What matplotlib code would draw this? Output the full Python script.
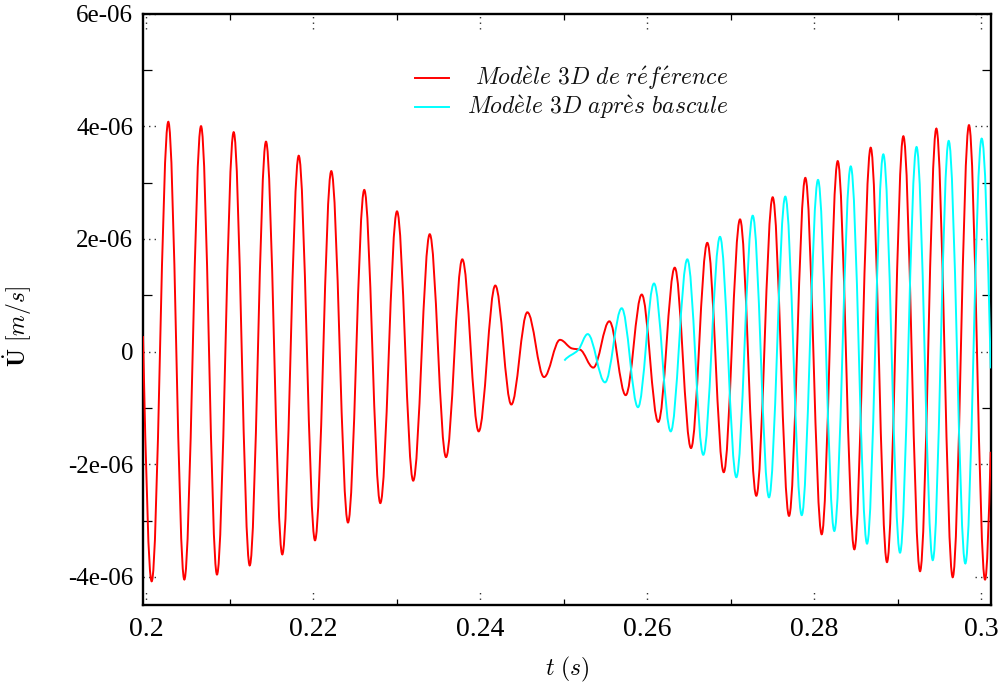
import numpy as np
import matplotlib
matplotlib.use('Agg')
import matplotlib.pyplot as plt
from matplotlib.path import Path
from matplotlib.patches import PathPatch
import matplotlib.transforms as mtransforms

plt.rcParams['mathtext.fontset'] = 'cm'

# ── Data: extrema of the velocity signals (t in s, U in 1e-6 m/s)
ref_t = [0.19964, 0.20068, 0.20267, 0.20459, 0.20659, 0.20850, 0.21050, 0.21242,
         0.21437, 0.21632, 0.21829, 0.22024, 0.22219, 0.22419, 0.22614, 0.22806,
         0.23006, 0.23200, 0.23398, 0.23593, 0.23788, 0.23984, 0.24183, 0.24375,
         0.24567, 0.24767, 0.24958, 0.25102, 0.25198, 0.25357, 0.25549, 0.25745,
         0.25937, 0.26135, 0.26332, 0.26527, 0.26722, 0.26919, 0.27114, 0.27309,
         0.27505, 0.27701, 0.27896, 0.28092, 0.28284, 0.28483, 0.28679, 0.28874,
         0.29070, 0.29270, 0.29465, 0.29661, 0.29856, 0.30048, 0.30116]
ref_u = [0.273, -4.079, 4.077, -4.048, 4.000, -3.959, 3.893, -3.798,
         3.725, -3.602, 3.475, -3.352, 3.202, -3.036, 2.868, -2.691,
         2.488, -2.293, 2.082, -1.875, 1.636, -1.418, 1.171, -0.941,
         0.696, -0.454, 0.207, 0.054, 0.032, -0.286, 0.536, -0.775,
         1.011, -1.250, 1.488, -1.714, 1.929, -2.143, 2.345, -2.561,
         2.738, -2.918, 3.082, -3.245, 3.380, -3.512, 3.618, -3.739,
         3.821, -3.900, 3.957, -4.007, 4.018, -4.048, -1.780]

bas_t = [0.25010, 0.25177, 0.25290, 0.25497, 0.25697, 0.25892, 0.26084, 0.26284,
         0.26483, 0.26674, 0.26874, 0.27070, 0.27266, 0.27461, 0.27656, 0.27853,
         0.28048, 0.28243, 0.28440, 0.28635, 0.28830, 0.29030, 0.29228, 0.29422,
         0.29613, 0.29812, 0.30008, 0.30116]
bas_u = [-0.161, 0.029, 0.309, -0.548, 0.768, -0.989, 1.207, -1.418,
         1.636, -1.834, 2.036, -2.232, 2.411, -2.589, 2.750, -2.905,
         3.046, -3.186, 3.286, -3.411, 3.500, -3.571, 3.630, -3.704,
         3.738, -3.763, 3.779, -0.300]

labels = ['Modèle 3D de référence', 'Modèle 3D après bascule']
legend_tex = [r'$Mod\grave{e}le\ 3D\ de\ r\acute{e}f\acute{e}rence$',
              r'$Mod\grave{e}le\ 3D\ apr\grave{e}s\ bascule$']
colors = ['#ff0000', '#00ffff']

y_major = [-4e-6, -2e-6, 0, 2e-6, 4e-6, 6e-6]
y_labels = ['-4e-06', '-2e-06', '0', '2e-06', '4e-06', '6e-06']
y_minor = [-3e-6, -1e-6, 1e-6, 3e-6, 5e-6]
x_major = [0.20, 0.22, 0.24, 0.26, 0.28, 0.30]
x_labels = ['0.2', '0.22', '0.24', '0.26', '0.28', '0.3']
x_minor = [0.21, 0.23, 0.25, 0.27, 0.29]


def wave_path(ts, us, scale=1e-6):
    """Smooth Bezier path through the read extrema (horizontal tangent at peaks)."""
    t = np.asarray(ts, float)
    u = np.asarray(us, float) * scale
    d = np.diff(u) / np.diff(t)
    m = np.zeros(len(t))
    for i in range(1, len(t) - 1):
        if d[i - 1] * d[i] > 0:
            m[i] = 2.0 / (1.0 / d[i - 1] + 1.0 / d[i])
    m[0] = 1.57 * d[0]
    m[-1] = 1.57 * d[-1]
    verts = [(t[0], u[0])]
    codes = [Path.MOVETO]
    for i in range(len(t) - 1):
        h = 0.36 * (t[i + 1] - t[i])
        verts += [(t[i] + h, u[i] + m[i] * h),
                  (t[i + 1] - h, u[i + 1] - m[i + 1] * h),
                  (t[i + 1], u[i + 1])]
        codes += [Path.CURVE4] * 3
    return Path(verts, codes)


fig = plt.figure(figsize=(10.04, 6.88), dpi=100, facecolor='white')
ax = fig.add_axes([143 / 1004, 1 - 605 / 688, 847.7 / 1004, 591.5 / 688])
ax.set_xlim(0.19964, 0.30116)
ax.set_ylim(-4.5e-6, 6e-6)

for ts, us, c in [(ref_t, ref_u, colors[0]), (bas_t, bas_u, colors[1])]:
    ax.add_patch(PathPatch(wave_path(ts, us), fill=False, edgecolor=c,
                           linewidth=1.4, zorder=3))

# ── ticks: labels only for majors, majors drawn dotted by hand ─────
ax.set_yticks(y_major, y_labels)
ax.set_xticks(x_major, x_labels)
ax.set_yticks(y_minor, minor=True)
ax.set_xticks(x_minor, minor=True)
ax.tick_params(which='major', length=0)
ax.tick_params(axis='y', which='major', pad=7, labelsize=18)
ax.tick_params(axis='x', which='major', pad=9, labelsize=20)
ax.tick_params(which='minor', direction='in', length=6.5, width=0.9,
               top=True, right=True, color='black')
ax.tick_params(axis='x', which='minor', length=4)
for lab in ax.get_xticklabels() + ax.get_yticklabels():
    lab.set_fontfamily('Liberation Serif')

tick_kw = dict(color='#333333', linewidth=1.0, linestyle=(0, (1, 3)), zorder=2,
               clip_on=False)
ytr = mtransforms.blended_transform_factory(ax.transAxes, ax.transData)
xtr = mtransforms.blended_transform_factory(ax.transData, ax.transAxes)
for y in y_major:
    ax.plot([0, 0.019], [y, y], transform=ytr, **tick_kw)
    ax.plot([0.981, 1], [y, y], transform=ytr, **tick_kw)
for x in x_major:
    ax.plot([x, x], [0, 0.026], transform=xtr, **tick_kw)
    ax.plot([x, x], [0.974, 1], transform=xtr, **tick_kw)

for s in ax.spines.values():
    s.set_linewidth(1.7)

ax.set_xlabel(r'$t\ (s)$', fontsize=17)
ax.xaxis.set_label_coords(0.5, -0.085)
ax.set_ylabel(r'$\dot{\mathbf{U}}\ [m/s]$', fontsize=17)
ax.yaxis.set_label_coords(-0.129, 0.47)

# ── key (gnuplot style: sample left, text right-aligned) ───────────
for k, (txt, c) in enumerate(zip(legend_tex, colors)):
    yk = 0.891 - 0.049 * k
    ax.plot([0.321, 0.361], [yk, yk], transform=ax.transAxes, color=c,
            linewidth=1.4)
    ax.text(0.690, yk, txt, transform=ax.transAxes, ha='right', va='center',
            fontsize=17, color='#111111')

fig.savefig('out.png', dpi=100, facecolor='white')
